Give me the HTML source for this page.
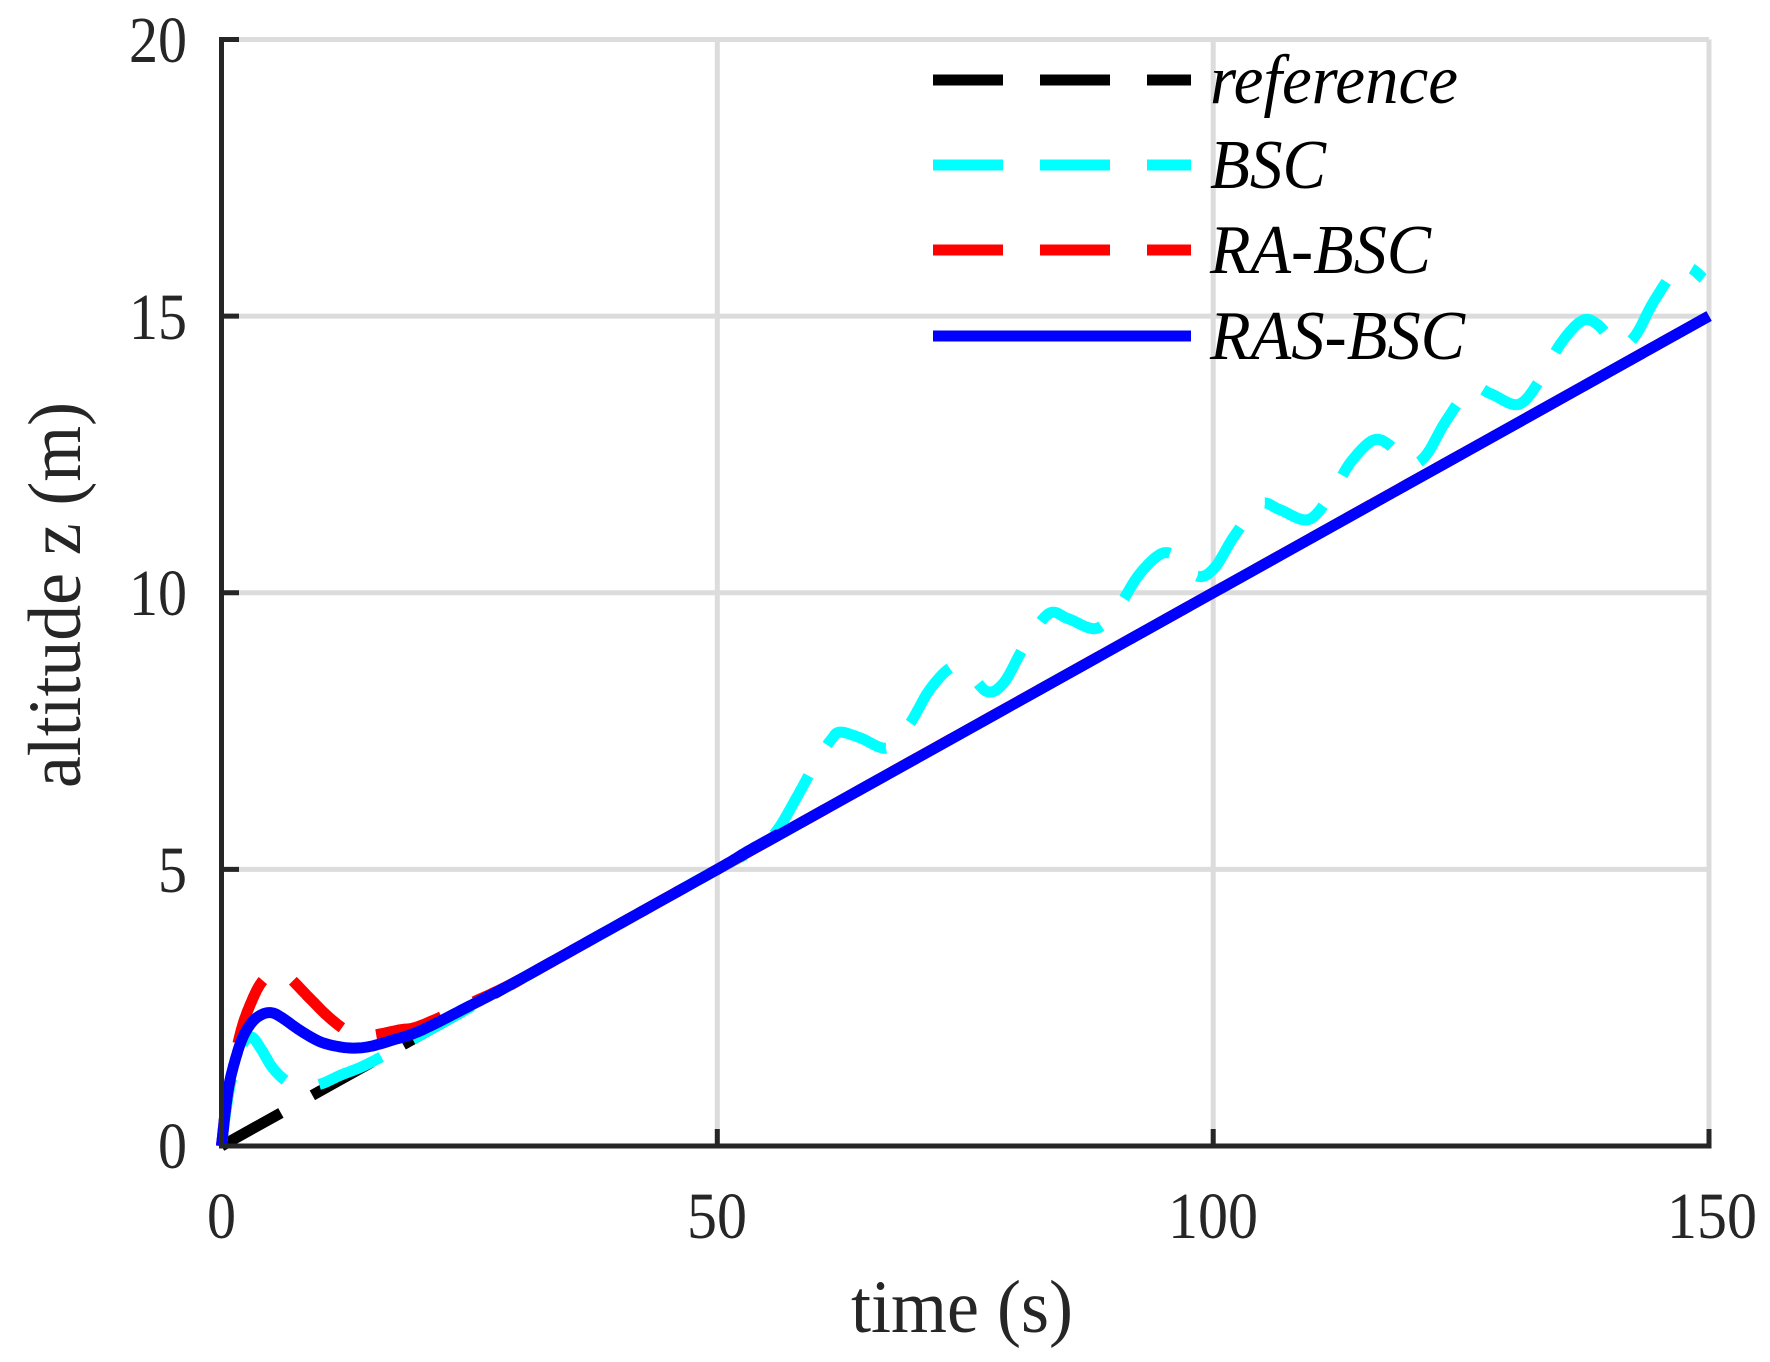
<!DOCTYPE html>
<html><head><meta charset="utf-8"><style>
html,body{margin:0;padding:0;background:#fff;}
svg{display:block;}
text{font-family:"Liberation Serif",serif;fill:#262626;}
</style></head><body>
<svg id="s" width="1770" height="1362" viewBox="0 0 1770 1362" xmlns="http://www.w3.org/2000/svg">
<rect width="1770" height="1362" fill="#fff"/>
<g stroke="#dcdcdc" stroke-width="5">
<line x1="717.3" y1="39.5" x2="717.3" y2="1146"/>
<line x1="1213.2" y1="39.5" x2="1213.2" y2="1146"/>
<line x1="1709" y1="39.5" x2="1709" y2="1146"/>
<line x1="221.5" y1="869.4" x2="1709" y2="869.4"/>
<line x1="221.5" y1="592.7" x2="1709" y2="592.7"/>
<line x1="221.5" y1="316.1" x2="1709" y2="316.1"/>
<line x1="221.5" y1="39.5" x2="1709" y2="39.5"/>
</g>
<g id="data" fill="none" stroke-width="11" stroke-linejoin="round"></g>
<g stroke="#262626" stroke-width="5" fill="none">
<line x1="221.5" y1="37" x2="221.5" y2="1148.5"/>
<line x1="219" y1="1146" x2="1711.5" y2="1146"/>
<line x1="221.5" y1="39.5" x2="239" y2="39.5"/>
<line x1="221.5" y1="316.1" x2="239" y2="316.1"/>
<line x1="221.5" y1="592.7" x2="239" y2="592.7"/>
<line x1="221.5" y1="869.4" x2="239" y2="869.4"/>
<line x1="717.3" y1="1146" x2="717.3" y2="1129"/>
<line x1="1213.2" y1="1146" x2="1213.2" y2="1129"/>
<line x1="1709" y1="1146" x2="1709" y2="1129"/>
</g>
<g font-size="66">
<text x="187" y="62" text-anchor="end" textLength="58" lengthAdjust="spacingAndGlyphs">20</text>
<text x="187" y="339" text-anchor="end" textLength="58" lengthAdjust="spacingAndGlyphs">15</text>
<text x="187" y="615" text-anchor="end" textLength="58" lengthAdjust="spacingAndGlyphs">10</text>
<text x="187" y="892" text-anchor="end" textLength="29" lengthAdjust="spacingAndGlyphs">5</text>
<text x="187" y="1168" text-anchor="end" textLength="29" lengthAdjust="spacingAndGlyphs">0</text>
<text x="207" y="1238" textLength="29" lengthAdjust="spacingAndGlyphs">0</text>
<text x="687" y="1238" textLength="60" lengthAdjust="spacingAndGlyphs">50</text>
<text x="1168" y="1238" textLength="90" lengthAdjust="spacingAndGlyphs">100</text>
<text x="1667" y="1238" textLength="90" lengthAdjust="spacingAndGlyphs">150</text>
</g>
<text x="851" y="1332" font-size="75" textLength="222" lengthAdjust="spacingAndGlyphs">time (s)</text>
<text transform="translate(80,788) rotate(-90)" font-size="75" textLength="386" lengthAdjust="spacingAndGlyphs">altitude z (m)</text>
<g stroke-width="11">
<line x1="933" y1="80" x2="1191" y2="80" stroke="#000" stroke-dasharray="70 37"/>
<line x1="933" y1="165" x2="1191" y2="165" stroke="#00ffff" stroke-dasharray="70 37"/>
<line x1="933" y1="250" x2="1191" y2="250" stroke="#ff0000" stroke-dasharray="70 37"/>
<line x1="933" y1="336" x2="1191" y2="336" stroke="#0000ff"/>
</g>
<g font-size="70" font-style="italic" fill="#000">
<text x="1210" y="103" textLength="248" lengthAdjust="spacingAndGlyphs" style="fill:#000">reference</text>
<text x="1210" y="188" textLength="116" lengthAdjust="spacingAndGlyphs" style="fill:#000">BSC</text>
<text x="1210" y="273" textLength="221" lengthAdjust="spacingAndGlyphs" style="fill:#000">RA-BSC</text>
<text x="1210" y="359" textLength="255" lengthAdjust="spacingAndGlyphs" style="fill:#000">RAS-BSC</text>
</g>
</svg>
<script>
(function(){
function X(t){return 221.5+9.917*t;}
function Y(z){return 1146-55.33*z;}
function cr(pts){ // catmull-rom densify
  var out=[];
  for(var i=0;i<pts.length-1;i++){
    var p0=pts[Math.max(0,i-1)],p1=pts[i],p2=pts[i+1],p3=pts[Math.min(pts.length-1,i+2)];
    for(var k=0;k<12;k++){
      var u=k/12,u2=u*u,u3=u2*u;
      var f=function(a,b,c,d){return 0.5*((2*b)+(-a+c)*u+(2*a-5*b+4*c-d)*u2+(-a+3*b-3*c+d)*u3);};
      out.push([f(p0[0],p1[0],p2[0],p3[0]),f(p0[1],p1[1],p2[1],p3[1])]);
    }
  }
  out.push(pts[pts.length-1]);
  return out;
}
function path(pts){
  var d=cr(pts).map(function(p,i){return (i?'L':'M')+X(p[0]).toFixed(1)+' '+Y(p[1]).toFixed(1);}).join('');
  return d;
}
var ref=[[0,0],[150,15]];
var blue=[[0,0],[0.5,0.8],[1,1.3],[2,1.9],[3,2.22],[4,2.37],[5,2.41],[6,2.33],[8,2.08],[10,1.88],[12,1.79],[13.5,1.77],[15,1.8],[17,1.9],[20,2.08],[25,2.53],[30,3.0],[40,4.0],[50,5.0],[53,5.32],[56,5.62],[60,6.0],[150,15]];
var red=[[0,0],[0.5,0.8],[1,1.3],[2,2.1],[3,2.6],[4,2.95],[5,3.1],[6,3.15],[7,3.02],[9,2.65],[11,2.3],[13,2.05],[15,2.0],[18,2.1],[20,2.17],[25,2.57],[30,3.0],[40,4.0],[150,15]];
var cyan=[[0,0],[0.5,0.7],[1,1.2],[2,1.8],[3,1.97],[4,1.75],[5,1.45],[6,1.25],[7,1.12],[8,1.07],[10,1.12],[12,1.28],[14,1.42],[16,1.6],[18,1.8],[20,2.0],[30,3.0],[40,4.0],[50,5.0],[54,5.38],[56,5.7],[58,6.3],[60,6.95],[61.5,7.35],[62.4,7.48]];
var peaks=[[62.4,7.48],[83.4,9.62],[104.7,11.6],[126,13.7],[147,15.92]];
var cyc=[[2,-0.1],[4.8,-0.28],[7,0.15],[9,0.75],[11.2,1.15],[12.8,1.08],[14.8,0.72],[16.5,0.88],[18.5,1.5]];
for(var i=0;i<peaks.length-1;i++){
  var P=peaks[i],Q=peaks[i+1],span=Q[0]-P[0],dz=Q[1]-P[1];
  cyc.forEach(function(c){cyan.push([P[0]+c[0]*span/21,P[1]+c[1]*dz/2.1]);});
  cyan.push(Q);
}
cyan.push([148.3,15.85]);cyan.push([149.4,15.68]);
var g=document.getElementById('data');
function add(pts,col,dash){
  var p=document.createElementNS('http://www.w3.org/2000/svg','path');
  p.setAttribute('d',path(pts));p.setAttribute('stroke',col);
  if(dash)p.setAttribute('stroke-dasharray','68 36');
  g.appendChild(p);
}
add(ref,'#000',1);add(cyan,'#00ffff',1);add(red,'#ff0000',1);add(blue,'#0000ff',0);
})();
</script>
</body></html>
